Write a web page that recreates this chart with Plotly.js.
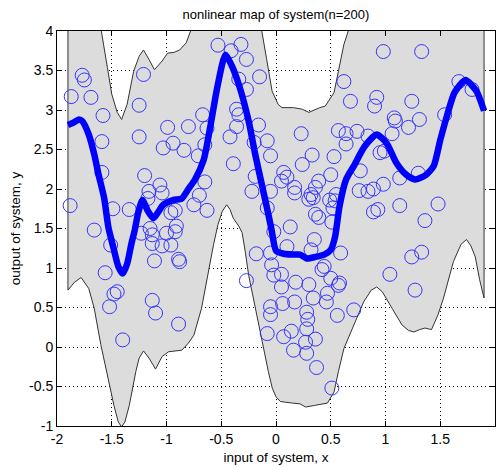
<!DOCTYPE html>
<html>
<head>
<meta charset="utf-8">
<script src="https://cdn.plot.ly/plotly-3.0.1.min.js"></script>
<style>html,body{margin:0;padding:0;background:#fff;}#chart{width:497px;height:467px;}</style>
</head>
<body>
<div id="chart"></div>
<script>
// ---- data ----
const meanX = [-1.9,-1.85,-1.8,-1.77,-1.71,-1.66,-1.62,-1.57,-1.53,-1.48,-1.44,-1.4,-1.36,-1.32,-1.29,-1.26,-1.22,-1.17,-1.12,-1.07,-1.03,-0.94,-0.86,-0.8,-0.74,-0.66,-0.6,-0.54,-0.48,-0.46,-0.4,-0.33,-0.25,-0.19,-0.13,-0.07,-0.04,0.0,0.07,0.15,0.22,0.28,0.36,0.44,0.5,0.54,0.58,0.64,0.71,0.81,0.92,1.01,1.1,1.19,1.27,1.37,1.44,1.5,1.56,1.63,1.73,1.83,1.9];
const meanY = [2.81,2.84,2.88,2.86,2.69,2.44,2.18,1.89,1.51,1.23,1.02,0.93,1.05,1.31,1.48,1.69,1.86,1.72,1.63,1.72,1.8,1.86,1.88,2.0,2.12,2.37,2.79,3.26,3.64,3.7,3.55,3.28,2.86,2.44,2.06,1.68,1.48,1.22,1.18,1.17,1.17,1.12,1.14,1.17,1.23,1.4,1.78,2.12,2.29,2.54,2.69,2.58,2.33,2.18,2.12,2.18,2.29,2.62,2.92,3.22,3.38,3.24,2.99];

const upperX = [-1.9,-1.75,-1.65,-1.6,-1.54,-1.5,-1.45,-1.41,-1.36,-1.3,-1.25,-1.21,-1.16,-1.11,-1.04,-0.99,-0.93,-0.88,-0.82,-0.78,-0.7,-0.5,-0.3,-0.18,-0.13,-0.085,-0.036,0.02,0.055,0.16,0.24,0.3,0.36,0.4,0.45,0.49,0.53,0.57,0.62,0.66,0.75,1.0,1.5,1.9];
const upperY = [4.6,4.5,4.3,4.04,3.54,3.2,2.97,2.88,3.07,3.49,3.68,3.76,3.64,3.51,3.62,3.72,3.73,3.76,3.85,4.0,4.3,4.5,4.4,4.2,4.0,3.64,3.24,3.07,3.03,3.03,3.01,2.97,3.01,3.03,3.05,3.13,3.22,3.49,3.83,4.0,4.4,4.7,4.6,4.6];

const lowerX = [-1.9,-1.84,-1.78,-1.71,-1.66,-1.6,-1.54,-1.48,-1.44,-1.41,-1.38,-1.34,-1.28,-1.25,-1.21,-1.16,-1.1,-1.04,-0.98,-0.86,-0.8,-0.75,-0.68,-0.62,-0.57,-0.53,-0.49,-0.45,-0.42,-0.39,-0.34,-0.31,-0.28,-0.25,-0.19,-0.12,-0.07,-0.034,0.0,0.04,0.15,0.22,0.27,0.35,0.42,0.47,0.53,0.57,0.62,0.71,0.8,0.87,0.92,0.97,1.06,1.15,1.21,1.26,1.31,1.36,1.42,1.48,1.53,1.62,1.69,1.74,1.78,1.82,1.86,1.9];
const lowerY = [0.72,0.82,0.88,0.74,0.49,0.03,-0.35,-0.74,-0.95,-1.01,-0.95,-0.74,-0.31,-0.14,-0.05,-0.14,-0.28,-0.12,-0.06,-0.04,0.05,0.15,0.49,0.91,1.3,1.55,1.72,1.8,1.74,1.63,1.53,1.45,1.2,0.91,0.49,0.03,-0.31,-0.52,-0.63,-0.69,-0.71,-0.72,-0.76,-0.74,-0.72,-0.71,-0.57,-0.31,-0.02,0.28,0.57,0.72,0.76,0.7,0.49,0.28,0.21,0.19,0.22,0.24,0.22,0.41,0.62,1.08,1.3,1.36,1.28,1.14,0.85,0.62];

const sampleX = [-1.87,-1.77,-1.75,-1.69,-1.58,-1.59,-1.59,-1.88,-1.49,-1.34,-1.66,-1.21,-1.25,-1.25,-1.2,-1.16,-1.06,-1.04,-1.17,-1.03,-1.13,-1.23,-1.51,-1.56,-1.45,-1.48,-1.52,-1.4,-1.13,-1.04,-1.11,-1.13,-1.1,-1.15,
 -0.99,-0.94,-0.84,-0.8,-0.67,-0.63,-0.65,-0.71,-0.65,-0.7,-0.75,-0.63,-0.92,-0.96,-0.91,-1.0,-0.92,-0.96,-0.89,-0.88,-0.89,-0.53,
 -0.41,-0.32,-0.27,-0.34,-0.27,-0.15,-0.36,-0.34,-0.36,-0.42,-0.16,-0.08,-0.05,-0.2,-0.39,-0.19,-0.22,-0.05,-0.08,-0.02,-0.18,-0.27,-0.05,-0.04,-0.02,-0.05,-0.05,-0.08,
 0.23,0.33,0.24,0.07,0.1,0.05,0.17,0.17,0.39,0.36,0.32,0.34,0.3,0.13,0.36,0.39,0.35,0.32,0.1,0.44,0.05,0.18,0.3,0.47,0.34,0.06,0.17,0.28,0.29,0.14,0.07,0.28,0.36,0.27,0.16,0.28,0.37,0.05,0.42,0.46,0.5,0.5,0.49,
 0.53,0.62,0.68,0.57,0.64,0.74,0.64,0.84,0.98,0.92,0.9,0.95,0.99,0.77,0.98,0.89,0.84,0.76,0.89,0.93,0.55,0.52,0.51,0.59,0.57,0.58,0.56,0.71,0.51,0.54,
 1.33,1.24,1.08,1.09,1.31,1.21,1.06,1.54,1.67,1.79,1.13,1.3,1.13,1.48,1.36,1.04,1.24,1.33,1.27];
const sampleY = [3.17,3.44,3.38,3.16,2.93,2.6,2.21,1.79,1.75,1.74,1.48,3.45,3.06,2.66,2.17,1.97,2.05,1.95,1.88,2.52,1.42,1.44,1.29,0.94,0.7,0.67,0.51,0.09,1.31,1.28,1.09,0.59,0.43,1.5,
 2.78,2.58,2.49,2.79,2.94,2.77,2.56,2.42,2.09,1.92,1.8,1.73,1.73,1.7,1.53,1.44,1.46,1.29,1.11,1.08,0.29,3.82,
 3.75,3.83,3.64,3.39,3.26,3.42,3.01,2.94,2.79,2.66,2.81,2.61,2.42,2.59,2.32,2.16,1.97,1.97,1.76,1.46,1.18,0.84,1.19,1.04,0.91,0.51,0.41,0.17,
 2.7,2.43,2.31,2.21,2.15,2.1,2.02,1.95,2.1,2.02,1.93,1.89,1.87,1.52,1.68,1.64,1.36,1.23,1.27,1.02,0.92,0.82,0.79,0.68,0.62,0.55,0.57,0.44,0.35,0.2,0.13,0.23,0.1,0.06,-0.04,-0.08,-0.26,0.76,0.98,0.57,0.87,2.18,1.86,
 2.41,3.36,3.11,2.74,2.7,2.73,2.57,2.67,3.74,3.16,3.05,2.46,2.48,2.23,2.06,2.0,1.97,1.98,1.71,1.74,1.93,1.76,1.58,1.19,0.78,0.81,0.4,0.47,-0.52,1.85,
 3.74,3.11,2.9,2.86,2.88,2.78,2.7,2.94,3.36,3.26,2.14,2.2,1.79,1.81,1.6,0.92,1.14,1.2,0.72];

const xTickVals = [-2,-1.5,-1,-0.5,0,0.5,1,1.5,2];
const xTickText = ['-2','-1.5','-1','-0.5','0','0.5','1','1.5','2'];
const yTickVals = [-1,-0.5,0,0.5,1,1.5,2,2.5,3,3.5,4];
const yTickText = ['-1','-0.5','0','0.5','1','1.5','2','2.5','3','3.5','4'];

const titleText = 'nonlinear map of system(n=200)';
const xLabel = 'input of system, x';
const yLabel = 'output of system, y';

// ---- build traces ----
const bandX = upperX.concat(lowerX.slice().reverse());
const bandY = upperY.concat(lowerY.slice().reverse());
bandX.push(upperX[0]); bandY.push(upperY[0]);

const traces = [
  {x: bandX, y: bandY, type: 'scatter', mode: 'lines', fill: 'toself',
   fillcolor: '#dcdcdc', line: {color: '#333333', width: 1}, hoverinfo: 'skip', showlegend: false},
  {x: sampleX, y: sampleY, type: 'scatter', mode: 'markers',
   marker: {symbol: 'circle-open', size: 14, color: '#3535ff', line: {width: 1, color: '#3535ff'}}, showlegend: false},
  {x: meanX, y: meanY, type: 'scatter', mode: 'lines', line: {color: '#0000ff', width: 6.5, shape: 'spline', smoothing: 0.6}, showlegend: false}
];

const fontFam = 'Liberation Sans, Arial, sans-serif';
const axisCommon = {
  showline: true, linecolor: '#000', linewidth: 1, mirror: 'ticks',
  ticks: 'inside', ticklen: 5, tickcolor: '#000', tickwidth: 1,
  showgrid: true, gridcolor: '#000', gridwidth: 1, griddash: '1px,3px',
  zeroline: false, tickfont: {family: fontFam, size: 14, color: '#000'}
};

const layout = {
  width: 497, height: 467,
  margin: {l: 57, r: 2, t: 31, b: 41},
  paper_bgcolor: '#fff', plot_bgcolor: '#fff',
  showlegend: false,
  title: {text: titleText, x: 0.5, xref: 'paper', xanchor: 'center', y: 0.968, yref: 'container', yanchor: 'middle',
          font: {family: fontFam, size: 13, color: '#000'}},
  xaxis: Object.assign({}, axisCommon, {range: [-2, 2], tickvals: xTickVals, ticktext: xTickText,
          title: {text: xLabel, standoff: 6, font: {family: fontFam, size: 13.5, color: '#000'}}}),
  yaxis: Object.assign({}, axisCommon, {range: [-1, 4], tickvals: yTickVals, ticktext: yTickText,
          title: {text: yLabel, standoff: 5, font: {family: fontFam, size: 13.5, color: '#000'}}})
};

Plotly.newPlot('chart', traces, layout, {displayModeBar: false, staticPlot: true});
</script>
</body>
</html>
